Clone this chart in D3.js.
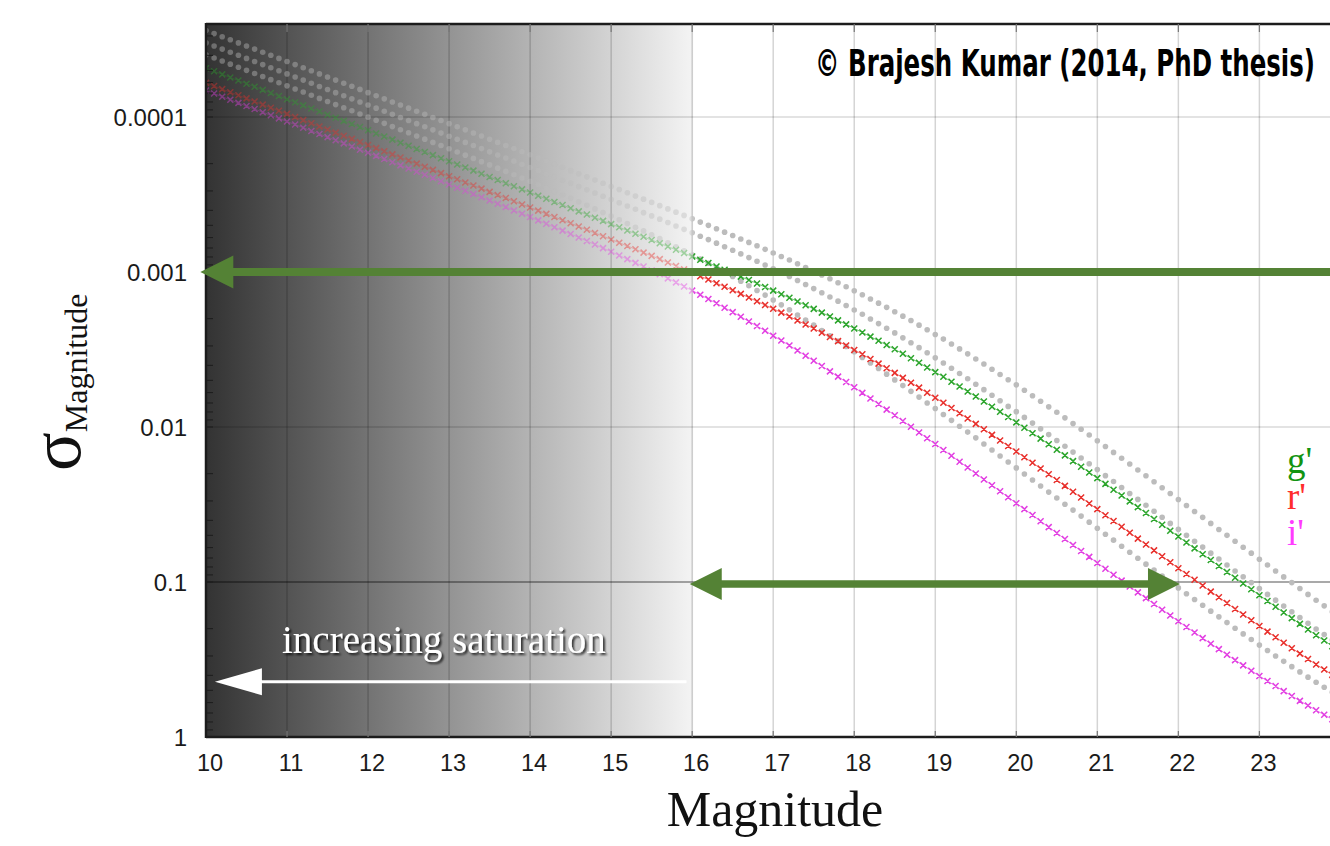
<!DOCTYPE html>
<html><head><meta charset="utf-8">
<script src="https://cdn.jsdelivr.net/npm/d3@7"></script>
<style>html,body{margin:0;padding:0;background:#fff;overflow:hidden}svg{display:block}</style>
</head><body>
<svg id="chart" width="1330" height="846"></svg>
<script>
// ---------------- DATA ----------------
const magnitudes = [10,10.1,10.2,10.3,10.4,10.5,10.6,10.7,10.8,10.9,11,11.1,11.2,11.3,11.4,11.5,11.6,11.7,11.8,11.9,
12,12.1,12.2,12.3,12.4,12.5,12.6,12.7,12.8,12.9,13,13.1,13.2,13.3,13.4,13.5,13.6,13.7,13.8,13.9,
14,14.1,14.2,14.3,14.4,14.5,14.6,14.7,14.8,14.9,15,15.1,15.2,15.3,15.4,15.5,15.6,15.7,15.8,15.9,
16,16.1,16.2,16.3,16.4,16.5,16.6,16.7,16.8,16.9,17,17.1,17.2,17.3,17.4,17.5,17.6,17.7,17.8,17.9,
18,18.1,18.2,18.3,18.4,18.5,18.6,18.7,18.8,18.9,19,19.1,19.2,19.3,19.4,19.5,19.6,19.7,19.8,19.9,
20,20.1,20.2,20.3,20.4,20.5,20.6,20.7,20.8,20.9,21,21.1,21.2,21.3,21.4,21.5,21.6,21.7,21.8,21.9,
22,22.1,22.2,22.3,22.4,22.5,22.6,22.7,22.8,22.9,23,23.1,23.2,23.3,23.4,23.5,23.6,23.7,23.8,23.9];

// log10(sigma), one value per magnitude above
const gLog10Sigma = [-4.315,-4.295,-4.275,-4.255,-4.235,-4.215,-4.195,-4.175,-4.155,-4.135,
-4.115,-4.095,-4.075,-4.055,-4.035,-4.015,-3.995,-3.975,-3.955,-3.935,
-3.914,-3.894,-3.874,-3.854,-3.834,-3.814,-3.794,-3.774,-3.754,-3.734,
-3.714,-3.694,-3.674,-3.654,-3.634,-3.613,-3.593,-3.573,-3.553,-3.533,
-3.513,-3.492,-3.472,-3.452,-3.432,-3.411,-3.391,-3.371,-3.350,-3.330,
-3.309,-3.289,-3.268,-3.247,-3.227,-3.206,-3.185,-3.164,-3.143,-3.122,
-3.100,-3.079,-3.058,-3.036,-3.014,-2.992,-2.970,-2.948,-2.926,-2.903,
-2.880,-2.857,-2.834,-2.810,-2.786,-2.762,-2.738,-2.713,-2.688,-2.662,
-2.636,-2.610,-2.583,-2.556,-2.529,-2.501,-2.472,-2.444,-2.414,-2.384,
-2.354,-2.324,-2.292,-2.261,-2.229,-2.197,-2.164,-2.131,-2.098,-2.064,
-2.030,-1.995,-1.960,-1.925,-1.889,-1.853,-1.817,-1.780,-1.744,-1.707,
-1.670,-1.633,-1.595,-1.558,-1.520,-1.483,-1.445,-1.407,-1.369,-1.331,
-1.293,-1.255,-1.217,-1.179,-1.142,-1.103,-1.065,-1.028,-0.990,-0.953,
-0.915,-0.878,-0.840,-0.803,-0.767,-0.730,-0.693,-0.657,-0.622,-0.586];

const rLog10Sigma = [-4.220,-4.200,-4.180,-4.160,-4.140,-4.120,-4.100,-4.080,-4.060,-4.040,
-4.020,-4.000,-3.980,-3.960,-3.939,-3.919,-3.899,-3.879,-3.859,-3.839,
-3.819,-3.799,-3.779,-3.759,-3.739,-3.719,-3.699,-3.679,-3.659,-3.638,
-3.618,-3.598,-3.578,-3.558,-3.538,-3.517,-3.497,-3.477,-3.457,-3.436,
-3.416,-3.396,-3.375,-3.355,-3.334,-3.314,-3.293,-3.272,-3.252,-3.231,
-3.210,-3.189,-3.168,-3.147,-3.125,-3.104,-3.083,-3.061,-3.039,-3.017,
-2.995,-2.973,-2.951,-2.928,-2.905,-2.882,-2.859,-2.835,-2.811,-2.787,
-2.763,-2.738,-2.713,-2.687,-2.661,-2.635,-2.608,-2.581,-2.554,-2.526,
-2.497,-2.469,-2.439,-2.409,-2.379,-2.349,-2.317,-2.286,-2.254,-2.221,
-2.189,-2.156,-2.122,-2.089,-2.055,-2.020,-1.985,-1.949,-1.913,-1.878,
-1.842,-1.805,-1.769,-1.732,-1.695,-1.658,-1.620,-1.582,-1.545,-1.507,
-1.470,-1.431,-1.393,-1.356,-1.318,-1.280,-1.242,-1.204,-1.166,-1.127,
-1.089,-1.052,-1.014,-0.977,-0.938,-0.901,-0.864,-0.826,-0.790,-0.753,
-0.716,-0.680,-0.644,-0.608,-0.573,-0.538,-0.503,-0.468,-0.435,-0.401];

const iLog10Sigma = [-4.171,-4.151,-4.131,-4.111,-4.091,-4.071,-4.051,-4.031,-4.011,-3.991,
-3.971,-3.951,-3.931,-3.910,-3.890,-3.870,-3.850,-3.830,-3.810,-3.789,
-3.769,-3.749,-3.729,-3.708,-3.688,-3.668,-3.647,-3.627,-3.606,-3.586,
-3.565,-3.544,-3.524,-3.503,-3.482,-3.461,-3.440,-3.419,-3.397,-3.376,
-3.355,-3.333,-3.311,-3.289,-3.267,-3.245,-3.223,-3.200,-3.177,-3.154,
-3.131,-3.107,-3.083,-3.059,-3.035,-3.010,-2.985,-2.959,-2.933,-2.907,
-2.880,-2.853,-2.826,-2.798,-2.769,-2.741,-2.711,-2.681,-2.651,-2.621,
-2.589,-2.558,-2.526,-2.493,-2.460,-2.427,-2.393,-2.359,-2.325,-2.290,
-2.256,-2.220,-2.184,-2.148,-2.112,-2.076,-2.039,-2.002,-1.965,-1.927,
-1.890,-1.852,-1.814,-1.776,-1.739,-1.700,-1.661,-1.624,-1.585,-1.547,
-1.508,-1.470,-1.432,-1.392,-1.354,-1.316,-1.277,-1.239,-1.200,-1.162,
-1.123,-1.085,-1.047,-1.009,-0.971,-0.933,-0.896,-0.858,-0.821,-0.784,
-0.747,-0.710,-0.674,-0.638,-0.602,-0.567,-0.531,-0.496,-0.462,-0.428,
-0.394,-0.361,-0.329,-0.296,-0.265,-0.233,-0.203,-0.173,-0.143,-0.114];

const gray1Log10Sigma = [-4.558,-4.538,-4.518,-4.498,-4.478,-4.458,-4.438,-4.418,-4.398,-4.378,
-4.358,-4.338,-4.318,-4.298,-4.278,-4.258,-4.238,-4.218,-4.198,-4.178,
-4.157,-4.137,-4.117,-4.097,-4.077,-4.057,-4.037,-4.017,-3.997,-3.977,
-3.957,-3.937,-3.917,-3.897,-3.877,-3.856,-3.836,-3.816,-3.796,-3.776,
-3.756,-3.735,-3.715,-3.695,-3.675,-3.654,-3.634,-3.614,-3.593,-3.573,
-3.552,-3.532,-3.511,-3.490,-3.470,-3.449,-3.428,-3.407,-3.386,-3.365,
-3.343,-3.322,-3.301,-3.279,-3.257,-3.235,-3.213,-3.191,-3.169,-3.146,
-3.123,-3.100,-3.077,-3.053,-3.029,-3.005,-2.981,-2.956,-2.931,-2.905,
-2.879,-2.853,-2.826,-2.799,-2.772,-2.744,-2.715,-2.687,-2.657,-2.627,
-2.597,-2.567,-2.535,-2.504,-2.472,-2.439,-2.406,-2.373,-2.339,-2.305,
-2.272,-2.237,-2.202,-2.166,-2.130,-2.095,-2.059,-2.022,-1.985,-1.948,
-1.911,-1.874,-1.836,-1.798,-1.761,-1.723,-1.685,-1.647,-1.608,-1.571,
-1.532,-1.494,-1.455,-1.417,-1.378,-1.339,-1.301,-1.263,-1.224,-1.186,
-1.147,-1.110,-1.071,-1.033,-0.996,-0.958,-0.920,-0.882,-0.846,-0.808];

const gray2Log10Sigma = [-4.478,-4.458,-4.438,-4.418,-4.398,-4.378,-4.358,-4.338,-4.318,-4.298,
-4.278,-4.258,-4.238,-4.218,-4.197,-4.177,-4.157,-4.137,-4.117,-4.097,
-4.077,-4.057,-4.037,-4.017,-3.997,-3.977,-3.957,-3.937,-3.917,-3.896,
-3.876,-3.856,-3.836,-3.816,-3.796,-3.775,-3.755,-3.735,-3.715,-3.694,
-3.674,-3.654,-3.633,-3.613,-3.592,-3.572,-3.551,-3.530,-3.510,-3.489,
-3.468,-3.447,-3.426,-3.405,-3.383,-3.362,-3.341,-3.319,-3.297,-3.275,
-3.253,-3.231,-3.209,-3.186,-3.163,-3.140,-3.117,-3.093,-3.069,-3.045,
-3.021,-2.996,-2.971,-2.945,-2.919,-2.893,-2.866,-2.839,-2.812,-2.784,
-2.755,-2.727,-2.697,-2.667,-2.637,-2.607,-2.575,-2.544,-2.512,-2.479,
-2.446,-2.413,-2.379,-2.345,-2.311,-2.276,-2.241,-2.205,-2.169,-2.133,
-2.099,-2.062,-2.025,-1.988,-1.951,-1.913,-1.876,-1.838,-1.800,-1.763,
-1.725,-1.686,-1.648,-1.610,-1.571,-1.533,-1.495,-1.456,-1.418,-1.378,
-1.340,-1.302,-1.263,-1.225,-1.186,-1.148,-1.110,-1.071,-1.034,-0.996,
-0.958,-0.920,-0.883,-0.845,-0.808,-0.771,-0.734,-0.697,-0.661,-0.625];

const gray3Log10Sigma = [-4.401,-4.381,-4.361,-4.341,-4.321,-4.301,-4.281,-4.261,-4.241,-4.221,
-4.201,-4.181,-4.161,-4.140,-4.120,-4.100,-4.080,-4.060,-4.040,-4.019,
-3.999,-3.979,-3.959,-3.938,-3.918,-3.898,-3.877,-3.857,-3.836,-3.816,
-3.795,-3.774,-3.754,-3.733,-3.712,-3.691,-3.670,-3.649,-3.627,-3.606,
-3.585,-3.563,-3.541,-3.519,-3.497,-3.475,-3.453,-3.430,-3.407,-3.384,
-3.361,-3.337,-3.313,-3.289,-3.265,-3.240,-3.215,-3.189,-3.163,-3.137,
-3.110,-3.083,-3.056,-3.028,-2.999,-2.971,-2.941,-2.911,-2.881,-2.851,
-2.819,-2.788,-2.756,-2.723,-2.690,-2.657,-2.623,-2.589,-2.555,-2.520,
-2.485,-2.449,-2.413,-2.377,-2.341,-2.304,-2.267,-2.230,-2.193,-2.155,
-2.119,-2.081,-2.043,-2.005,-1.967,-1.930,-1.890,-1.852,-1.813,-1.774,
-1.736,-1.697,-1.658,-1.619,-1.580,-1.542,-1.502,-1.464,-1.425,-1.386,
-1.347,-1.308,-1.270,-1.231,-1.192,-1.153,-1.115,-1.077,-1.039,-1.000,
-0.962,-0.924,-0.887,-0.850,-0.812,-0.775,-0.738,-0.702,-0.665,-0.629,
-0.593,-0.558,-0.523,-0.488,-0.454,-0.420,-0.386,-0.353,-0.321,-0.289];

const bandNames = ["g'", "r'", "i'"];
const bandColors = ["#2ca52c", "#e8302c", "#e23fe2"];
const bandLabelColors = ["#129412", "#ff2d2d", "#ff3cff"];
const xTickValues = [10,11,12,13,14,15,16,17,18,19,20,21,22,23,24];
const yTickValues = [0.0001, 0.001, 0.01, 0.1, 1];
const yTickLabels = ["0.0001", "0.001", "0.01", "0.1", "1"];
const xDomain = [10, 25];
const yDomain = [1, 2.512e-5];
const saturationLimitMag = 16;          // end of the shaded saturation zone
const limitArrow = {sigma: 0.001, fromMag: 25, toMag: 9.93};
const rangeArrow = {sigma: 0.1, fromMag: 15.97, toMag: 22.02};
const saturationArrow = {sigma: 0.44, fromMag: 15.93, toMag: 10.11};
const xTitle = "Magnitude";
const yTitleMain = "σ";
const yTitleSub = "Magnitude";
const saturationText = "increasing saturation";
const creditText = "© Brajesh Kumar (2014, PhD thesis)";

// ---------------- CHART ----------------
const W = 1330, H = 846;
const svg = d3.select("#chart");
const x = d3.scaleLinear().domain(xDomain).range([206, 206 + 15 * 81.03]);
const y = d3.scaleLog().domain(yDomain).range([737, 24]);
const L = x(xDomain[0]), R = x(xDomain[1]), T = y(yDomain[1]), B = y(yDomain[0]);
const satX = x(saturationLimitMag) + 1;

const defs = svg.append("defs");
const grad = defs.append("linearGradient").attr("id", "satGrad").attr("x1", 0).attr("x2", 1).attr("y1", 0).attr("y2", 0);
grad.append("stop").attr("offset", 0).attr("stop-color", "#333333");
grad.append("stop").attr("offset", 1).attr("stop-color", "#f4f4f4");
defs.append("clipPath").attr("id", "plotClip").append("rect").attr("x", L).attr("y", T).attr("width", R - L).attr("height", B - T);
defs.append("clipPath").attr("id", "satClip").append("rect").attr("x", L).attr("y", T).attr("width", satX - L).attr("height", B - T);
defs.append("clipPath").attr("id", "clearClip").append("rect").attr("x", satX).attr("y", T).attr("width", R - satX).attr("height", B - T);
const shadow = defs.append("filter").attr("id", "shadow").attr("x", "-10%").attr("y", "-30%").attr("width", "130%").attr("height", "160%");
shadow.append("feDropShadow").attr("dx", 2).attr("dy", 2).attr("stdDeviation", 1.2).attr("flood-color", "#000").attr("flood-opacity", 0.75);

// saturation shading
svg.append("rect").attr("x", L).attr("y", T).attr("width", satX - L).attr("height", B - T).attr("fill", "url(#satGrad)");

// grid
const grid = svg.append("g").attr("clip-path", "url(#plotClip)");
grid.selectAll("line.vx").data(xTickValues.slice(1)).join("line")
  .attr("x1", d => x(d)).attr("x2", d => x(d)).attr("y1", T).attr("y2", B)
  .attr("stroke", "rgba(0,0,0,0.17)").attr("stroke-width", 1.5);
grid.selectAll("line.hy").data(yTickValues.slice(0, 3)).join("line")
  .attr("x1", L).attr("x2", R).attr("y1", d => y(d)).attr("y2", d => y(d))
  .attr("stroke", "rgba(0,0,0,0.15)").attr("stroke-width", 1.5);
grid.append("line").attr("x1", L).attr("x2", R).attr("y1", y(0.1)).attr("y2", y(0.1))
  .attr("stroke", "rgba(0,0,0,0.45)").attr("stroke-width", 1.5);

// series
const grays = [gray1Log10Sigma, gray2Log10Sigma, gray3Log10Sigma];
const bands = [gLog10Sigma, rLog10Sigma, iLog10Sigma];
function pts(arr) { return arr.map((v, k) => [magnitudes[k], Math.pow(10, v)]); }
const line = d3.line().x(d => x(d[0])).y(d => y(d[1]));
function drawSeries(g) {
  grays.forEach(arr => {
    g.append("g").selectAll("circle").data(pts(arr)).join("circle")
      .attr("cx", d => x(d[0])).attr("cy", d => y(d[1])).attr("r", 2.8).attr("fill", "#bcbcbc");
  });
  bands.forEach((arr, i) => {
    const p = pts(arr);
    g.append("path").attr("d", line(p)).attr("fill", "none").attr("stroke", bandColors[i]).attr("stroke-width", 0.8).attr("opacity", 0.8);
    g.append("path").attr("fill", "none").attr("stroke", bandColors[i]).attr("stroke-width", 1.5)
      .attr("d", p.map(d => { const cx = x(d[0]), cy = y(d[1]), s = 3;
        return `M${cx - s},${cy - s}L${cx + s},${cy + s}M${cx - s},${cy + s}L${cx + s},${cy - s}`; }).join(""));
  });
}
drawSeries(svg.append("g").attr("clip-path", "url(#satClip)").attr("opacity", 0.42));
drawSeries(svg.append("g").attr("clip-path", "url(#clearClip)"));

// frame and ticks
const frame = svg.append("g").attr("stroke", "#1c1c1c");
frame.append("line").attr("x1", L).attr("x2", W).attr("y1", T).attr("y2", T).attr("stroke-width", 2.5);
frame.append("line").attr("x1", L).attr("x2", W).attr("y1", B).attr("y2", B).attr("stroke-width", 2.5);
frame.append("line").attr("x1", L).attr("x2", L).attr("y1", T - 1).attr("y2", B + 1).attr("stroke-width", 2.5);
const minor = y.ticks().filter(v => v >= yDomain[1] && v <= 1);
frame.selectAll("line.mt").data(minor).join("line")
  .attr("x1", L).attr("x2", L + 7).attr("y1", d => y(d)).attr("y2", d => y(d)).attr("stroke-width", 1);
const xt = svg.append("g").attr("stroke", "#777").attr("stroke-width", 1.2);
xt.selectAll("line.b").data(xTickValues.slice(1)).join("line")
  .attr("x1", d => x(d)).attr("x2", d => x(d)).attr("y1", B).attr("y2", B - 6);
xt.selectAll("line.t").data(xTickValues.slice(1)).join("line")
  .attr("x1", d => x(d)).attr("x2", d => x(d)).attr("y1", T).attr("y2", T + 8);

// tick labels
const sans = "'Liberation Sans', Arial, Helvetica, sans-serif";
svg.append("g").selectAll("text").data(xTickValues).join("text")
  .attr("x", d => x(d) + 4).attr("y", 771).attr("text-anchor", "middle")
  .attr("font-family", sans).attr("font-size", 23.5).attr("fill", "#1a1a1a").text(d => d);
svg.append("g").selectAll("text").data(yTickValues).join("text")
  .attr("x", 187).attr("y", d => y(d)).attr("dy", "0.36em").attr("text-anchor", "end")
  .attr("font-family", sans).attr("font-size", 24).attr("fill", "#1a1a1a").text((d, i) => yTickLabels[i]);

// axis titles
const serif = "'Liberation Serif', 'Times New Roman', Times, serif";
svg.append("text").attr("x", 775).attr("y", 826).attr("text-anchor", "middle")
  .attr("font-family", serif).attr("font-size", 50).attr("fill", "#111").text(xTitle);
const yt = svg.append("text").attr("transform", "translate(80,471) rotate(-90)")
  .attr("font-family", serif).attr("fill", "#111");
yt.append("tspan").attr("font-size", 72).text(yTitleMain);
yt.append("tspan").attr("font-size", 32).attr("dy", 7).text(yTitleSub);

// arrows
function arrowPath(x1, x2, yc, t, hl, hw, both) {
  const dir = Math.sign(x2 - x1);
  const b2 = x2 - dir * hl, b1 = both ? x1 + dir * hl : x1;
  let d = `M${b1},${yc - t / 2}L${b2},${yc - t / 2}L${b2},${yc - hw}L${x2},${yc}L${b2},${yc + hw}L${b2},${yc + t / 2}L${b1},${yc + t / 2}`;
  if (both) d += `L${b1},${yc + hw}L${x1},${yc}L${b1},${yc - hw}Z`; else d += "Z";
  return d;
}
const green = "#548235";
svg.append("path").attr("fill", green)
  .attr("d", arrowPath(x(limitArrow.fromMag), x(limitArrow.toMag), y(limitArrow.sigma), 8, 33, 16.5, false));
svg.append("path").attr("fill", green)
  .attr("d", arrowPath(x(rangeArrow.fromMag), x(rangeArrow.toMag), y(rangeArrow.sigma) + 2, 7.5, 32, 16, true));
svg.append("path").attr("fill", "#fff")
  .attr("d", arrowPath(x(saturationArrow.fromMag), x(saturationArrow.toMag), y(saturationArrow.sigma), 3.2, 47, 13.5, false));

// texts
svg.append("text").attr("x", 282).attr("y", 653).attr("font-family", serif).attr("font-size", 39)
  .attr("fill", "#fff").attr("filter", "url(#shadow)").text(saturationText);
svg.append("text").attr("x", 815).attr("y", 76)
  .attr("font-family", "'Liberation Sans Narrow', 'DejaVu Sans Condensed', 'Roboto Condensed', sans-serif")
  .attr("font-weight", "bold").attr("font-size", 38).attr("fill", "#000")
  .attr("textLength", 500).attr("lengthAdjust", "spacingAndGlyphs").text(creditText);
const bandBase = [473, 508.5, 545];
svg.append("g").selectAll("text").data(bandNames).join("text")
  .attr("x", 1287).attr("y", (d, i) => bandBase[i]).attr("font-family", serif).attr("font-size", 37)
  .attr("fill", (d, i) => bandLabelColors[i]).text(d => d);
</script>
</body></html>
